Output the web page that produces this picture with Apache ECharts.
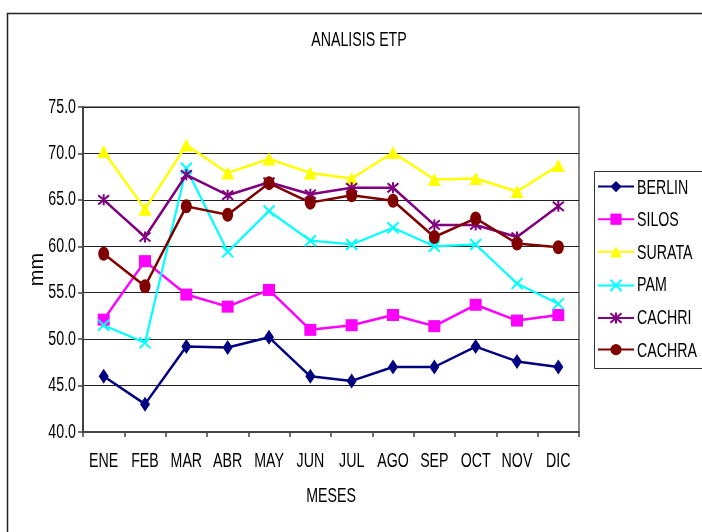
<!DOCTYPE html>
<html>
<head>
<meta charset="utf-8">
<script src="https://cdn.jsdelivr.net/npm/echarts@6/dist/echarts.min.js"></script>
<style>
  html, body { margin: 0; padding: 0; background: #fff; }
  #chart { width: 702px; height: 532px; }
</style>
</head>
<body>
<div id="chart"></div>
<script>
// Monthly ETP (mm) per station
const months = ['ENE', 'FEB', 'MAR', 'ABR', 'MAY', 'JUN', 'JUL', 'AGO', 'SEP', 'OCT', 'NOV', 'DIC'];
const berlin = [46.0, 43.0, 49.2, 49.1, 50.2, 46.0, 45.5, 47.0, 47.0, 49.2, 47.6, 47.0];
const silos  = [52.1, 58.4, 54.8, 53.5, 55.3, 51.0, 51.5, 52.6, 51.4, 53.7, 52.0, 52.6];
const surata = [70.2, 64.0, 70.9, 67.9, 69.4, 67.9, 67.3, 70.1, 67.2, 67.3, 65.9, 68.7];
const pam    = [51.5, 49.6, 68.4, 59.4, 63.8, 60.6, 60.2, 62.0, 60.0, 60.2, 56.0, 53.8];
const cachri = [65.0, 61.0, 67.7, 65.5, 66.9, 65.6, 66.3, 66.3, 62.3, 62.3, 61.0, 64.3];
const cachra = [59.2, 55.7, 64.3, 63.4, 66.8, 64.7, 65.5, 64.9, 61.0, 63.0, 60.3, 59.9];
const yTicks = [40, 45, 50, 55, 60, 65, 70, 75];

const titleText = 'ANALISIS ETP';
const xName = 'MESES';
const yName = 'mm';

// Narrow, tightly set lettering: Liberation Sans squeezed horizontally
const FONT = "20px 'Liberation Sans', Arial, sans-serif";
const SQUEEZE = 0.71;

const xShape = 'path://M0,0L10,10M10,0L0,10';
const starShape = 'path://M0,0L10,10M10,0L0,10M5,-1L5,11';

function line(name, data, color, symbol, size, extra) {
  return Object.assign({
    name: name,
    type: 'line',
    data: data,
    symbol: symbol,
    symbolSize: size,
    showSymbol: true,
    lineStyle: { color: color, width: 2.5 },
    itemStyle: { color: color },
    emphasis: { disabled: true },
    animation: false,
    z: 3
  }, extra || {});
}

const series = [
  line('BERLIN', berlin, '#000080', 'diamond', [10, 15]),
  line('SILOS', silos, '#FF00FF', 'rect', [12, 12]),
  line('SURATA', surata, '#FFFF00', 'triangle', [13, 13]),
  line('PAM', pam, '#00FFFF', xShape, [11, 11], {
    lineStyle: { color: '#00FFFF', width: 2.2 },
    itemStyle: { color: 'rgba(0,0,0,0)', borderColor: '#00FFFF', borderWidth: 2 }
  }),
  line('CACHRI', cachri, '#800080', starShape, [11, 11], {
    itemStyle: { color: 'rgba(0,0,0,0)', borderColor: '#800080', borderWidth: 2 }
  }),
  line('CACHRA', cachra, '#800000', 'circle', [11, 14])
];

// legend rows: one small legend per station so the key and its name share a row centre
const LEGEND_TOP = 181, LEGEND_ITEM_H = 14, LEGEND_STEP = 32.6, LEGEND_TEXT_X = 637;
const legends = series.map((s, i) => ({
  orient: 'vertical',
  left: 597,
  top: LEGEND_TOP + i * LEGEND_STEP,
  padding: 0,
  itemWidth: 36,
  itemHeight: LEGEND_ITEM_H,
  textStyle: { color: 'rgba(0,0,0,0)', fontSize: 8, lineHeight: 8 },
  data: [s.name],
  selectedMode: false
}));

const chart = echarts.init(document.getElementById('chart'), null, { renderer: 'canvas' });

const frame = [
  {
    type: 'rect',
    shape: { x: 7.5, y: 13.5, width: 720, height: 540 },
    style: { fill: 'none', stroke: '#222', lineWidth: 1.5 },
    silent: true, z: -1
  },
  {
    type: 'rect',
    shape: { x: 594.5, y: 171.5, width: 120, height: 197 },
    style: { fill: 'none', stroke: '#333', lineWidth: 1 },
    silent: true, z: -1
  }
];

chart.setOption({
  backgroundColor: '#ffffff',
  animation: false,
  grid: {
    left: 83, top: 107, right: 123, bottom: 100,
    show: true, borderColor: '#888', borderWidth: 2, backgroundColor: 'transparent'
  },
  legend: legends,
  xAxis: {
    type: 'category',
    data: months,
    boundaryGap: true,
    axisLine: { lineStyle: { color: '#444', width: 2 } },
    axisTick: { show: true, inside: false, length: 5, lineStyle: { color: '#444', width: 1.5 } },
    axisLabel: { show: false },
    splitLine: { show: false }
  },
  yAxis: {
    type: 'value',
    min: yTicks[0],
    max: yTicks[yTicks.length - 1],
    interval: yTicks[1] - yTicks[0],
    axisLine: { show: true, lineStyle: { color: '#444', width: 2 } },
    axisTick: { show: true, inside: false, length: 5, lineStyle: { color: '#444', width: 1.5 } },
    axisLabel: { show: false },
    splitLine: { show: true, lineStyle: { color: '#222', width: 1 } }
  },
  graphic: frame,
  series: series
});

// Text layer: labels placed from the axes' own scales, squeezed horizontally
function label(text, x, y, align, extra) {
  return Object.assign({
    type: 'text',
    x: x, y: y,
    scaleX: SQUEEZE,
    silent: true,
    style: { text: text, font: FONT, fill: '#000', align: align, verticalAlign: 'middle' }
  }, extra || {});
}

const texts = [];
texts.push(label(titleText, 359, 40.5, 'center'));

months.forEach(m => {
  const px = chart.convertToPixel({ xAxisIndex: 0 }, m);
  texts.push(label(m, px, 461, 'center'));
});

yTicks.forEach(v => {
  const py = chart.convertToPixel({ yAxisIndex: 0 }, v);
  texts.push(label(v.toFixed(1), 76, py, 'right'));
});

const plotLeft = chart.convertToPixel({ xAxisIndex: 0 }, months[0]);
const plotRight = chart.convertToPixel({ xAxisIndex: 0 }, months[months.length - 1]);
texts.push(label(xName, (plotLeft + plotRight) / 2, 496.5, 'center'));

const yMid = chart.convertToPixel({ yAxisIndex: 0 }, (yTicks[0] + yTicks[yTicks.length - 1]) / 2);
texts.push(label(yName, 37.5, yMid, 'center', { rotation: Math.PI / 2, scaleX: 1, scaleY: 1 }));

series.forEach((s, i) => {
  const cy = LEGEND_TOP + LEGEND_ITEM_H / 2 + i * LEGEND_STEP;
  texts.push(label(s.name, LEGEND_TEXT_X, cy, 'left'));
});

chart.setOption({ graphic: frame.concat(texts) }, { replaceMerge: ['graphic'] });
</script>
</body>
</html>
